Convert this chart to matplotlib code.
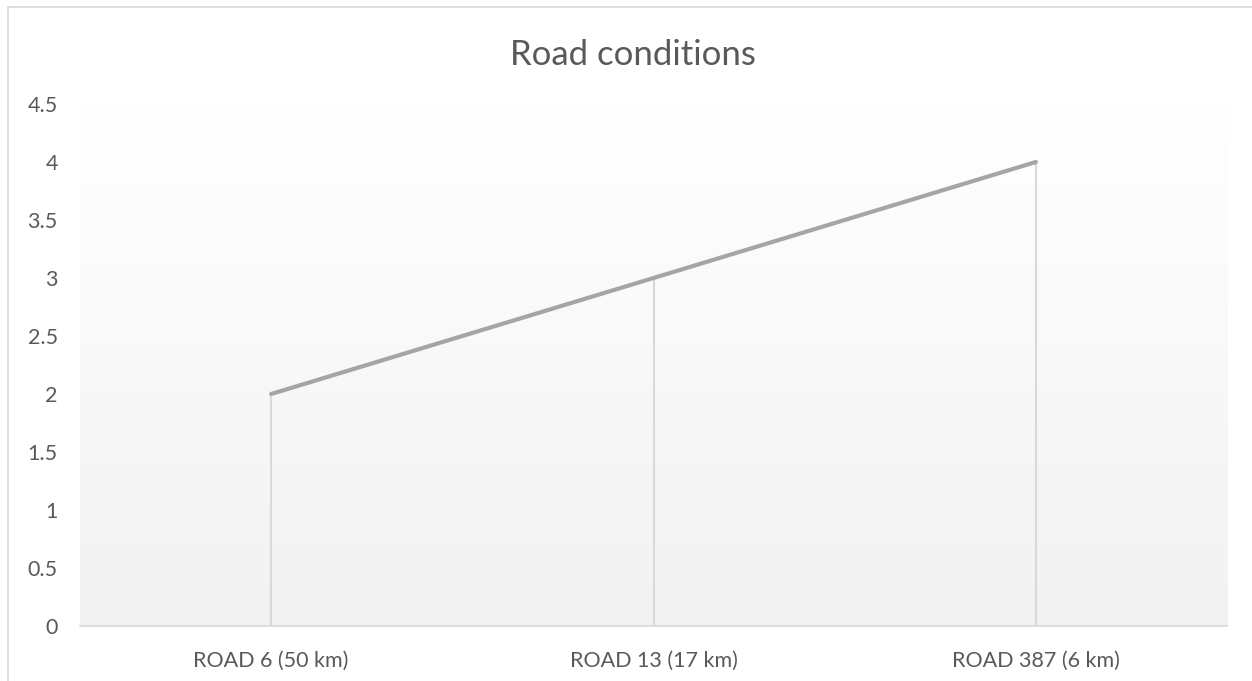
import numpy as np
import matplotlib.pyplot as plt
from matplotlib.lines import Line2D

roads = ['ROAD 6 (50 km)', 'ROAD 13 (17 km)', 'ROAD 387 (6 km)']
condition = [2, 3, 4]
yticks = [0, 0.5, 1, 1.5, 2, 2.5, 3, 3.5, 4, 4.5]
yticklabels = ['0', '0.5', '1', '1.5', '2', '2.5', '3', '3.5', '4', '4.5']

plt.rcParams['font.family'] = ['Lato', 'DejaVu Sans']

fig = plt.figure(figsize=(12.52, 6.81), dpi=100)
ax = fig.add_axes([80 / 1252, 1 - 626 / 681, 1147 / 1252, 522 / 681])

x = np.arange(len(roads))

# plot area gradient, white at top to light gray at bottom
grad = np.linspace(0, 1, 256).reshape(-1, 1)
ax.imshow(grad, cmap=plt.matplotlib.colors.LinearSegmentedColormap.from_list(
    'g', ['#ffffff', '#f2f2f2']), aspect='auto',
    extent=[-0.5, 2.5, 0, 4.5], origin='upper', zorder=0)

ax.vlines(x, 0, condition, color='#d9d9d9', lw=1.5, zorder=1)
ax.plot(x, condition, color='#a5a5a5', lw=3, solid_capstyle='round', zorder=2)

ax.set_xlim(-0.5, 2.5)
ax.set_ylim(0, 4.5)
ax.set_xticks(x)
ax.set_xticklabels(roads)
ax.set_yticks(yticks)
ax.set_yticklabels(yticklabels)
ax.tick_params(axis='both', length=0, labelsize=15.5, labelcolor='#595959')
ax.tick_params(axis='y', pad=16)
ax.tick_params(axis='x', pad=18)

for s in ['top', 'right', 'left']:
    ax.spines[s].set_visible(False)
ax.spines['bottom'].set_color('#d9d9d9')
ax.spines['bottom'].set_linewidth(1.2)

fig.text(633 / 1252, 1 - 55 / 681, 'Road conditions', ha='center', va='center',
         fontsize=25, color='#595959')

# chart border
fig.add_artist(Line2D([8 / 1252, 8 / 1252], [0, 1 - 7 / 681], transform=fig.transFigure,
                      color='#d9d9d9', lw=1.2))
fig.add_artist(Line2D([8 / 1252, 1], [1 - 7 / 681, 1 - 7 / 681], transform=fig.transFigure,
                      color='#d9d9d9', lw=1.2))

fig.savefig('out.png', dpi=100)
